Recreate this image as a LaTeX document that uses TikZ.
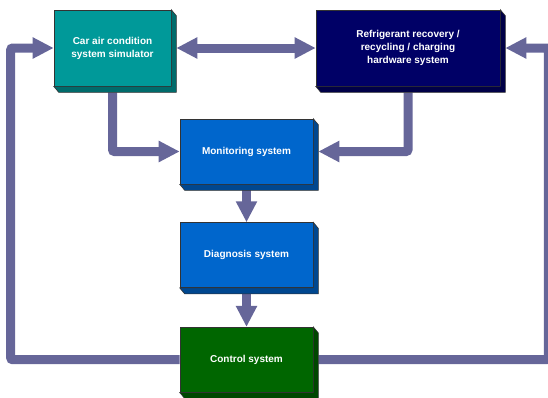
\documentclass[tikz,border=0pt]{standalone}
\usepackage{fontspec}
\setmainfont{Liberation Sans}
\usetikzlibrary{positioning,arrows.meta}
\definecolor{flowgray}{HTML}{666699}
\definecolor{simteal}{HTML}{009999}
\definecolor{hwnavy}{HTML}{000066}
\definecolor{sysblue}{HTML}{0066CC}
\definecolor{ctrlgreen}{HTML}{006600}
\tikzset{
    block/.style = {
        draw = black!80,
        line width = 0.6pt,
        text = white,
        font = \bfseries\fontsize{10}{13}\selectfont,
        align = center,
        inner sep = 0pt,
        minimum width = 133pt,
        minimum height = 65pt,
        },
    side/.style = {
        draw = black!80,
        line width = 0.6pt,
        },
    flow/.style = {
        draw = flowgray,
        line width = 9pt,
        rounded corners = 2pt,
        >={Triangle[length=21pt, width=20pt]},
        ->,
        },
}
\begin{document}
\begin{tikzpicture}[x=1pt, y=-1pt]
            \useasboundingbox (0,0) rectangle (548,397);
            \node[block, fill=simteal, minimum width=117pt, minimum height=76pt] (car) at (112.5,48) {Car air condition\\system simulator};
            \node[block, fill=hwnavy, minimum width=184pt, minimum height=76pt] (hw) at (408,48) {Refrigerant recovery /\\recycling / charging\\hardware system};
            \node[block, fill=sysblue] (mon) at (246.5,151.5) {Monitoring system};
            \node[block, fill=sysblue, below=38pt of mon] (diag) {Diagnosis system};
            \node[block, fill=ctrlgreen, below=39pt of diag] (ctrl) {Control system};

            \draw[flow, <->] ([xshift=5pt]car.east) -- (hw.west);
            \draw[flow] ([yshift=-6pt]car.south) |- (mon.west);
            \draw[flow] ([yshift=-6pt]hw.south) |- ([xshift=5pt]mon.east);
            \draw[flow] ([yshift=-6pt]mon.south) -- (diag.north);
            \draw[flow] ([yshift=-6pt]diag.south) -- (ctrl.north);
            \draw[flow] (ctrl.west) -| ([xshift=-43pt]car.west) -- (car.west);
            \draw[flow] ([xshift=5pt]ctrl.east) -| ([xshift=48pt]hw.east) -- ([xshift=5pt]hw.east);

            % 3d sides of the blocks
            \foreach \n/\c in {car/simteal, hw/hwnavy, mon/sysblue, diag/sysblue, ctrl/ctrlgreen}
                \filldraw[side, fill=\c!70!black] (\n.north east) -- ++(5,6) -- ([shift={(5,6)}]\n.south east) -- ([shift={(5,6)}]\n.south west) -- (\n.south west) -- (\n.south east) -- cycle;
        \end{tikzpicture}
\end{document}
